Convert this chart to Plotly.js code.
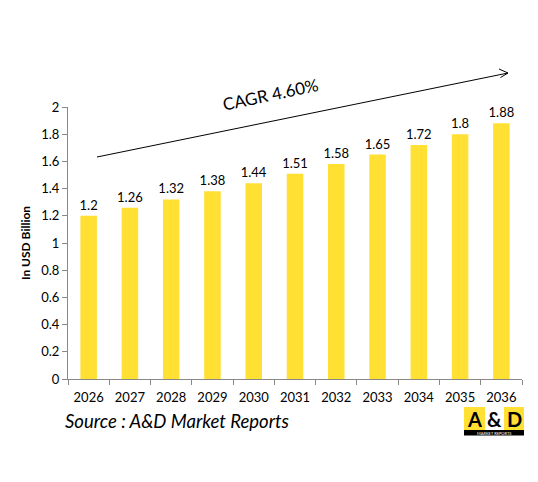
<!DOCTYPE html>
<html><head><meta charset="utf-8">
<script src="https://cdn.plot.ly/plotly-3.0.1.min.js"></script>
<style>body{margin:0;background:#fff}#c{width:538px;height:482px}</style>
</head><body><div id="c"></div>
<script>
const years = ['2026','2027','2028','2029','2030','2031','2032','2033','2034','2035','2036'];
const values = [1.2,1.26,1.32,1.38,1.44,1.51,1.58,1.65,1.72,1.8,1.88];
const yTicks = [0,0.2,0.4,0.6,0.8,1,1.2,1.4,1.6,1.8,2];
const cagrLabel = 'CAGR 4.60%';
const sourceLabel = 'Source : A&D Market Reports';

const W=538,H=482,L=68,R=16,T=107,B=103;
const pw=W-L-R, ph=H-T-B;
const px = x => (x-L)/pw;
const py = y => (H-B-y)/ph;
const F = 'Lato, "Open Sans", sans-serif';

function ann(x,y,text,font,extra){
  return Object.assign({xref:'paper',yref:'paper',x:px(x),y:py(y),xanchor:'center',yanchor:'middle',text:text,showarrow:false,font:font},extra||{});
}

const shapes = [
  {type:'line',xref:'paper',yref:'paper',x0:px(97),y0:py(157),x1:px(508),y1:py(73),line:{color:'#000',width:1}},
  {type:'line',xref:'paper',yref:'paper',x0:px(499),y0:py(69),x1:px(508),y1:py(73),line:{color:'#000',width:1}},
  {type:'line',xref:'paper',yref:'paper',x0:px(500.5),y0:py(77.5),x1:px(508),y1:py(73),line:{color:'#000',width:1}},
  {type:'rect',xref:'paper',yref:'paper',x0:px(464),y0:py(430),x1:px(485),y1:py(407),fillcolor:'#FFE033',line:{width:0},layer:'above'},
  {type:'rect',xref:'paper',yref:'paper',x0:px(504),y0:py(430),x1:px(524),y1:py(407),fillcolor:'#FFE033',line:{width:0},layer:'above'},
  {type:'rect',xref:'paper',yref:'paper',x0:px(464),y0:py(435.5),x1:px(524),y1:py(430),fillcolor:'#000',line:{width:0},layer:'above'}
];
const annotations = [
  ann(270,95,cagrLabel,{family:F,size:17,color:'#000'},{textangle:-12}),
  ann(63,421,'<i>'+sourceLabel+'</i>',{family:F,size:18.5,color:'#000'},{xanchor:'left'}),
  ann(474.5,419,'<b>A</b>',{family:F,size:20,color:'#000'}),
  ann(494.5,419,'<b>&amp;</b>',{family:F,size:20,color:'#000'}),
  ann(514,419,'<b>D</b>',{family:F,size:20,color:'#000'}),
  ann(494,433,'MARKET REPORTS',{family:F,size:4,color:'#fff'})
];

Plotly.newPlot('c',[{
  type:'bar',x:years,y:values,marker:{color:'#FFE033'},
  text:values.map(String),textposition:'outside',cliponaxis:false,constraintext:'none',
  textfont:{family:F,size:13,color:'#000'},hoverinfo:'skip'
}],{
  width:W,height:H,margin:{l:L,r:R,t:T,b:B},
  paper_bgcolor:'#fff',plot_bgcolor:'#fff',bargap:0.6,showlegend:false,
  font:{family:F,size:13,color:'#000'},
  xaxis:{type:'category',showline:true,linecolor:'#888',linewidth:1,ticks:'outside',tickson:'boundaries',ticklen:5,tickcolor:'#888',showgrid:false,ticklabelstandoff:6,tickfont:{family:F,size:13,color:'#000'}},
  yaxis:{range:[0,2],tickvals:yTicks,ticktext:yTicks.map(String),showline:true,linecolor:'#888',linewidth:1,ticks:'outside',ticklen:5,tickcolor:'#888',showgrid:false,zeroline:false,tickfont:{family:F,size:13,color:'#000'},
    title:{text:'<b>In USD Billion</b>',font:{family:F,size:12,color:'#000'},standoff:8}},
  shapes:shapes,annotations:annotations
},{staticPlot:true});
</script></body></html>
